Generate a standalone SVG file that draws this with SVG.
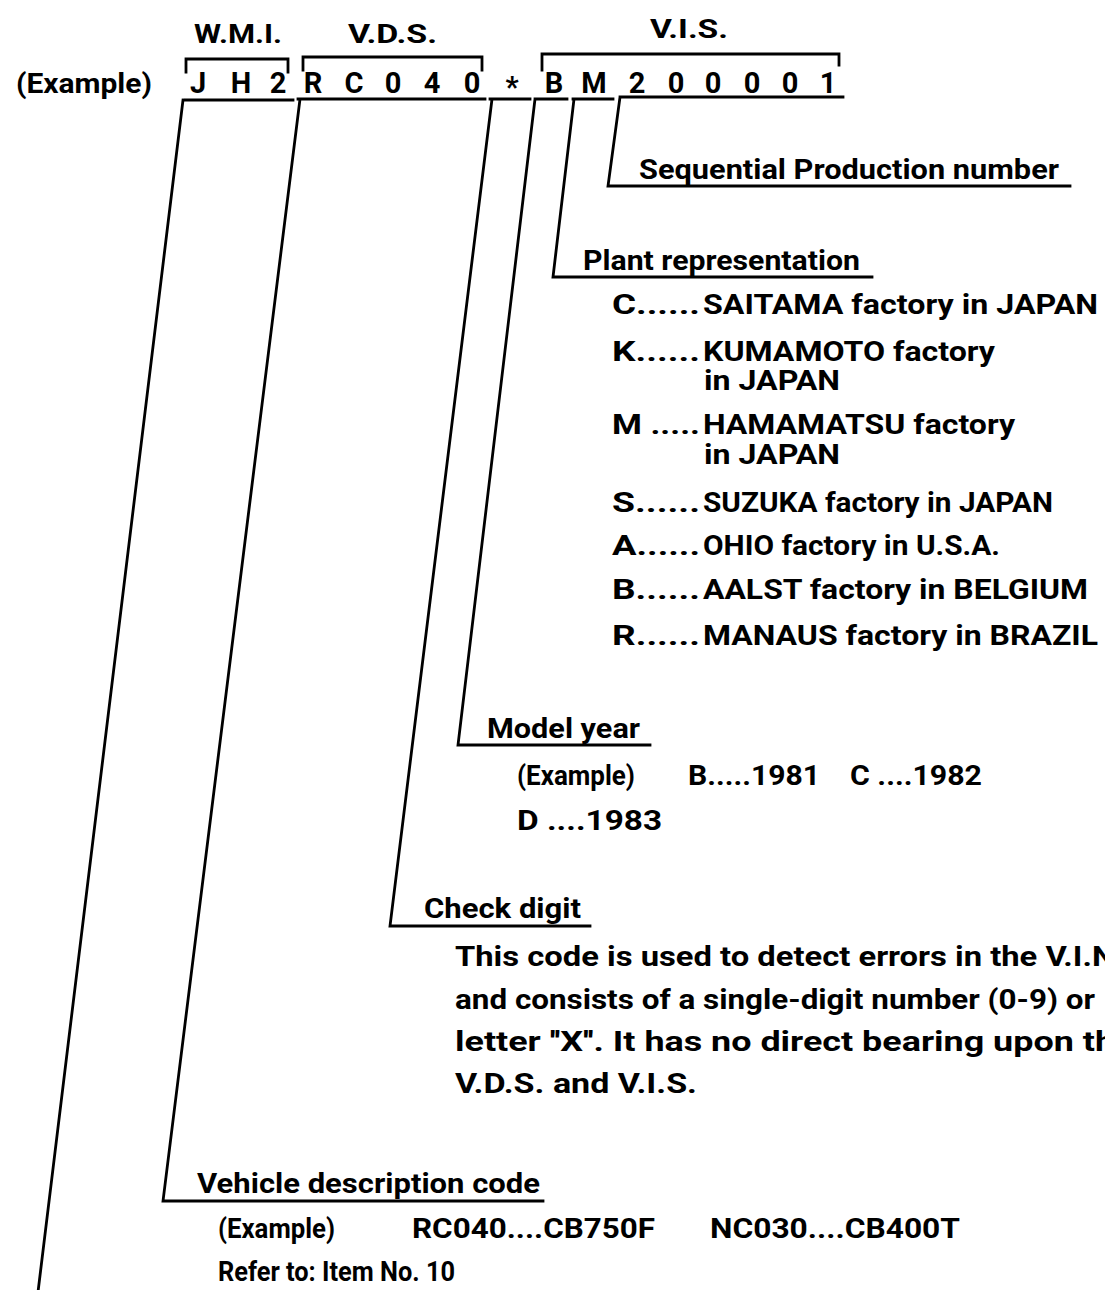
<svg xmlns="http://www.w3.org/2000/svg" width="1105" height="1290" viewBox="0 0 1105 1290">
<style>
.t{font-family:Roboto,"Liberation Sans",Arial,sans-serif;font-weight:bold;font-size:27px;fill:#000}
.h{font-family:Roboto,"Liberation Sans",Arial,sans-serif;font-weight:bold;font-size:25px;fill:#000}
.v{font-family:Roboto,"Liberation Sans",Arial,sans-serif;font-weight:bold;font-size:29px;fill:#000;text-anchor:middle}
.ln{stroke:#000;stroke-width:2.8;fill:none;stroke-linejoin:miter;stroke-linecap:square}
</style>
<rect width="1105" height="1290" fill="#fff"/>
<g id="headers">
<text class="h" x="194" y="43" textLength="88" lengthAdjust="spacingAndGlyphs">W.M.I.</text>
<text class="h" x="348" y="43" textLength="89" lengthAdjust="spacingAndGlyphs">V.D.S.</text>
<text class="h" x="650" y="38" textLength="78" lengthAdjust="spacingAndGlyphs">V.I.S.</text>
</g>
<g id="brackets">
<path class="ln" d="M186,72 L186,59 L288,59 L288,72"/>
<path class="ln" d="M303,70 L303,57 L482,57 L482,70"/>
<path class="ln" d="M542,70 L542,54 L839,54 L839,65"/>
</g>
<g id="vin">
<text class="t" x="16" y="93" textLength="136" lengthAdjust="spacingAndGlyphs">(Example)</text>
<text class="v" x="198" y="93">J</text>
<text class="v" x="241" y="93">H</text>
<text class="v" x="278" y="93">2</text>
<text class="v" x="313" y="93">R</text>
<text class="v" x="354" y="93">C</text>
<text class="v" x="393" y="93">0</text>
<text class="v" x="432" y="93">4</text>
<text class="v" x="472" y="93">0</text>
<text class="v" x="512" y="97">*</text>
<text class="v" x="554" y="93">B</text>
<text class="v" x="594" y="93">M</text>
<text class="v" x="637" y="93">2</text>
<text class="v" x="676" y="93">0</text>
<text class="v" x="713" y="93">0</text>
<text class="v" x="752" y="93">0</text>
<text class="v" x="790" y="93">0</text>
<text class="v" x="828" y="93">1</text>
</g>
<g id="connectors">
<path class="ln" d="M185,100 L293,100 M183,100 L38,1292"/>
<path class="ln" d="M298,99 L485,99 M300,99 L163,1201 L543,1201"/>
<path class="ln" d="M490,99 L530,99 M492,99 L390,926 L590,926"/>
<path class="ln" d="M535,99 L567,99 M535,99 L458,745 L650,745"/>
<path class="ln" d="M573,99 L613,99 M574,99 L553,277 L872,277"/>
<path class="ln" d="M620,97 L843,97 M620,97 L608,186 L1070,186"/>
</g>
<g id="sequential">
<text class="t" x="639" y="179" textLength="420" lengthAdjust="spacingAndGlyphs">Sequential Production number</text>
</g>
<g id="plant">
<text class="t" x="583" y="270" textLength="277" lengthAdjust="spacingAndGlyphs">Plant representation</text>
<text class="t" x="612" y="314" textLength="88" lengthAdjust="spacingAndGlyphs">C......</text>
<text class="t" x="703" y="314" textLength="395" lengthAdjust="spacingAndGlyphs">SAITAMA factory in JAPAN</text>
<text class="t" x="612" y="361" textLength="88" lengthAdjust="spacingAndGlyphs">K......</text>
<text class="t" x="703" y="361" textLength="292" lengthAdjust="spacingAndGlyphs">KUMAMOTO factory</text>
<text class="t" x="704" y="390" textLength="136" lengthAdjust="spacingAndGlyphs">in JAPAN</text>
<text class="t" x="612" y="434" textLength="88" lengthAdjust="spacingAndGlyphs">M .....</text>
<text class="t" x="703" y="434" textLength="312" lengthAdjust="spacingAndGlyphs">HAMAMATSU factory</text>
<text class="t" x="704" y="464" textLength="136" lengthAdjust="spacingAndGlyphs">in JAPAN</text>
<text class="t" x="612" y="512" textLength="88" lengthAdjust="spacingAndGlyphs">S......</text>
<text class="t" x="703" y="512" textLength="350" lengthAdjust="spacingAndGlyphs">SUZUKA factory in JAPAN</text>
<text class="t" x="612" y="555" textLength="88" lengthAdjust="spacingAndGlyphs">A......</text>
<text class="t" x="703" y="555" textLength="297" lengthAdjust="spacingAndGlyphs">OHIO factory in U.S.A.</text>
<text class="t" x="612" y="599" textLength="88" lengthAdjust="spacingAndGlyphs">B......</text>
<text class="t" x="703" y="599" textLength="385" lengthAdjust="spacingAndGlyphs">AALST factory in BELGIUM</text>
<text class="t" x="612" y="645" textLength="88" lengthAdjust="spacingAndGlyphs">R......</text>
<text class="t" x="703" y="645" textLength="395" lengthAdjust="spacingAndGlyphs">MANAUS factory in BRAZIL</text>
</g>
<g id="model-year">
<text class="t" x="487" y="738" textLength="153" lengthAdjust="spacingAndGlyphs">Model year</text>
<text class="t" x="517" y="785" textLength="118" lengthAdjust="spacingAndGlyphs">(Example)</text>
<text class="t" x="688" y="785" textLength="132" lengthAdjust="spacingAndGlyphs">B.....1981</text>
<text class="t" x="850" y="785" textLength="132" lengthAdjust="spacingAndGlyphs">C ....1982</text>
<text class="t" x="517" y="830" textLength="145" lengthAdjust="spacingAndGlyphs">D ....1983</text>
</g>
<g id="check-digit">
<text class="t" x="424" y="918" textLength="157" lengthAdjust="spacingAndGlyphs">Check digit</text>
<text class="t" x="455" y="966" textLength="660" lengthAdjust="spacingAndGlyphs">This code is used to detect errors in the V.I.N</text>
<text class="t" x="455" y="1009" textLength="640" lengthAdjust="spacingAndGlyphs">and consists of a single-digit number (0-9) or</text>
<text class="t" x="455" y="1051" textLength="660" lengthAdjust="spacingAndGlyphs">letter ''X''. It has no direct bearing upon th</text>
<text class="t" x="455" y="1093" textLength="242" lengthAdjust="spacingAndGlyphs">V.D.S. and V.I.S.</text>
</g>
<g id="vehicle-description">
<text class="t" x="197" y="1193" textLength="343" lengthAdjust="spacingAndGlyphs">Vehicle description code</text>
<text class="t" x="218" y="1238" textLength="117" lengthAdjust="spacingAndGlyphs">(Example)</text>
<text class="t" x="412" y="1238" textLength="243" lengthAdjust="spacingAndGlyphs">RC040....CB750F</text>
<text class="t" x="710" y="1238" textLength="250" lengthAdjust="spacingAndGlyphs">NC030....CB400T</text>
<text class="t" x="218" y="1281" textLength="237" lengthAdjust="spacingAndGlyphs">Refer to: Item No. 10</text>
</g>
</svg>
